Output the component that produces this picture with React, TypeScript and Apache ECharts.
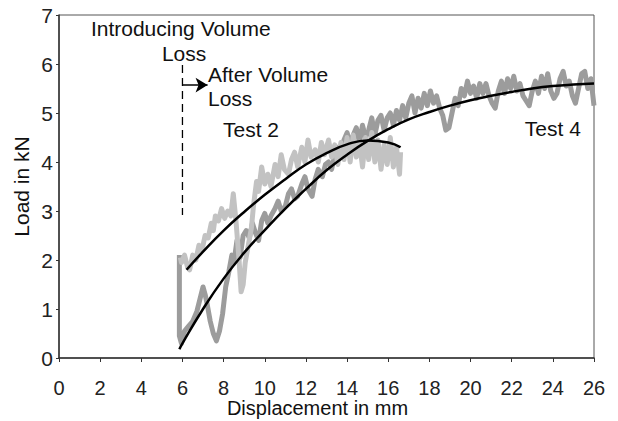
import React, { useEffect, useRef } from "react";
import * as echarts from "echarts";

// Test 2 measured trace (light grey)
const test2X = [5.9, 5.95, 6.1, 6.25, 6.35, 6.5, 6.65, 6.8, 6.95, 7.1, 7.25, 7.4, 7.5, 7.6, 7.75, 7.9, 8.05, 8.2, 8.35, 8.47, 8.6, 8.75, 8.85, 8.95, 9.05, 9.2, 9.35, 9.45, 9.6, 9.7, 9.85, 10.0, 10.15, 10.3, 10.5, 10.65, 10.8, 10.95, 11.15, 11.3, 11.45, 11.6, 11.8, 11.95, 12.1, 12.25, 12.45, 12.6, 12.75, 12.9, 13.1, 13.25, 13.4, 13.55, 13.7, 13.85, 14.0, 14.15, 14.3, 14.45, 14.6, 14.75, 14.9, 15.05, 15.2, 15.35, 15.5, 15.65, 15.8, 15.95, 16.1, 16.25, 16.4, 16.55, 16.6];
const test2Y = [2.05, 1.95, 2.1, 1.85, 1.8, 2.1, 2.0, 2.3, 2.2, 2.5, 2.45, 2.75, 2.6, 2.9, 2.8, 3.05, 2.85, 3.0, 2.9, 3.35, 2.8, 2.0, 1.35, 1.5, 1.95, 2.3, 2.65, 3.1, 3.6, 3.4, 3.9, 3.55, 3.75, 3.5, 3.95, 3.7, 4.15, 3.85, 3.75, 4.05, 4.2, 3.9, 4.3, 4.0, 4.45, 4.1, 4.25, 4.0, 4.4, 4.15, 4.45, 4.1, 4.35, 3.95, 4.4, 4.05, 4.5, 4.0, 4.55, 4.1, 4.4, 3.9, 4.5, 4.05, 4.6, 4.0, 4.45, 3.85, 4.35, 3.95, 4.5, 3.9, 4.3, 3.75, 4.2];

// Test 4 measured trace (dark grey)
const test4X = [5.85, 5.85, 5.85, 5.85, 5.95, 6.1, 6.3, 6.5, 6.7, 6.85, 7.0, 7.1, 7.2, 7.35, 7.5, 7.65, 7.8, 7.95, 8.1, 8.25, 8.4, 8.5, 8.65, 8.8, 8.95, 9.1, 9.25, 9.4, 9.55, 9.7, 9.85, 10.0, 10.15, 10.3, 10.5, 10.65, 10.8, 11.0, 11.15, 11.3, 11.45, 11.6, 11.8, 11.95, 12.1, 12.3, 12.45, 12.6, 12.8, 12.95, 13.1, 13.25, 13.4, 13.55, 13.7, 13.85, 14.0, 14.15, 14.3, 14.45, 14.6, 14.75, 14.9, 15.05, 15.2, 15.35, 15.5, 15.65, 15.8, 15.95, 16.1, 16.25, 16.4, 16.55, 16.7, 16.85, 17.0, 17.15, 17.3, 17.45, 17.6, 17.75, 17.9, 18.05, 18.2, 18.35, 18.5, 18.65, 18.8, 18.95, 19.1, 19.25, 19.4, 19.55, 19.7, 19.85, 20.0, 20.15, 20.3, 20.45, 20.6, 20.75, 20.9, 21.05, 21.2, 21.35, 21.5, 21.65, 21.8, 21.95, 22.1, 22.25, 22.4, 22.55, 22.7, 22.85, 23.0, 23.15, 23.3, 23.45, 23.6, 23.75, 23.9, 24.05, 24.2, 24.35, 24.5, 24.65, 24.8, 24.95, 25.1, 25.25, 25.4, 25.55, 25.7, 25.85, 26.0];
const test4Y = [2.1, 1.6, 1.0, 0.45, 0.3, 0.55, 0.65, 0.75, 0.95, 1.2, 1.45, 1.3, 1.1, 0.75, 0.5, 0.35, 0.55, 0.9, 1.45, 1.75, 2.1, 1.95, 2.4, 2.05, 2.5, 2.6, 2.45, 2.75, 2.55, 2.4, 2.8, 2.95, 2.75, 2.9, 3.05, 3.2, 3.0, 3.1, 3.35, 3.45, 3.25, 3.3, 3.55, 3.7, 3.45, 3.3, 3.65, 3.85, 3.7, 3.95, 4.0, 3.85, 4.15, 4.3, 4.1, 4.45, 4.6, 4.35, 4.55, 4.7, 4.4, 4.75, 4.5, 4.65, 4.9, 4.55, 4.85, 4.95, 4.65, 4.9, 5.0, 4.75, 5.05, 4.85, 5.15, 4.9, 5.2, 5.35, 5.0, 5.3, 5.1, 5.4, 5.15, 5.45, 5.2, 5.35, 5.1, 4.95, 4.65, 4.7, 5.0, 5.3, 5.15, 5.5, 5.35, 5.65, 5.4, 5.55, 5.3, 5.6, 5.4, 5.6, 5.35, 5.2, 5.1, 5.45, 5.65, 5.4, 5.7, 5.5, 5.75, 5.45, 5.6, 5.35, 5.25, 5.15, 5.45, 5.65, 5.4, 5.75, 5.5, 5.8, 5.45, 5.3, 5.4, 5.7, 5.85, 5.55, 5.65, 5.35, 5.2, 5.5, 5.8, 5.85, 5.5, 5.7, 5.15];

// Fitted curves (black)
const fit2X = [6.2, 7, 8, 9, 10, 11, 12, 13, 14, 15, 16, 16.6];
const fit2Y = [1.8, 2.17, 2.6, 2.98, 3.33, 3.65, 3.95, 4.18, 4.36, 4.44, 4.4, 4.3];
const fit4X = [5.85, 6, 7, 8, 9, 10, 11, 12, 13, 14, 15, 16, 17, 18, 19, 20, 21, 22, 23, 24, 25, 26];
const fit4Y = [0.18, 0.3, 1.0, 1.62, 2.15, 2.61, 3.05, 3.45, 3.83, 4.15, 4.43, 4.67, 4.87, 5.02, 5.15, 5.26, 5.35, 5.43, 5.5, 5.55, 5.58, 5.6];

// Volume loss marker
const lossLineX = [6, 6];
const lossLineY = [5.98, 2.92];
const arrowFrom = [6, 5.57];
const arrowTo = [7.22, 5.57];

// Annotation texts [x (mm), y (kN), text]
const notes: [number, number, string][] = [
  [1.55, 6.73, "Introducing Volume"],
  [5.0, 6.22, "Loss"],
  [7.24, 5.78, "After Volume"],
  [7.24, 5.29, "Loss"],
  [7.97, 4.67, "Test 2"],
  [22.64, 4.69, "Test 4"],
];

const FONT = "'Liberation Sans', Arial, sans-serif";
const FS = 21;
const AXFS = 20;

const pairs = (xs: number[], ys: number[]) => xs.map((x, i) => [x, ys[i]]);

export default function App() {
  const ref = useRef<HTMLDivElement>(null);
  useEffect(() => {
    if (!ref.current) return;
    const chart = echarts.init(ref.current, undefined, { renderer: "svg" });
    chart.setOption({
      animation: false,
      backgroundColor: "#ffffff",
      grid: {
        left: 59,
        right: 24,
        top: 15,
        bottom: 63,
        containLabel: false,
        outerBoundsMode: "none",
        show: true,
        borderColor: "#555",
        borderWidth: 1,
        backgroundColor: "transparent",
      },
      xAxis: {
        type: "value",
        min: 0,
        max: 26,
        interval: 2,
        name: "Displacement in mm",
        nameLocation: "middle",
        nameGap: 40,
        nameMoveOverlap: false,
        nameTextStyle: { fontFamily: FONT, fontSize: AXFS, color: "#111", padding: [0, 18, 0, 0] },
        axisLine: { show: true, lineStyle: { color: "#333", width: 1.5 } },
        axisTick: { show: true, length: 4, lineStyle: { color: "#333" } },
        axisLabel: { fontFamily: FONT, fontSize: AXFS, color: "#222", margin: 20 },
        splitLine: { show: false },
      },
      yAxis: {
        type: "value",
        min: 0,
        max: 7,
        interval: 1,
        name: "Load in kN",
        nameLocation: "middle",
        nameGap: 27,
        nameRotate: 90,
        nameMoveOverlap: false,
        nameTextStyle: { fontFamily: FONT, fontSize: FS, color: "#111" },
        axisLine: { show: true, lineStyle: { color: "#333", width: 1.5 } },
        axisTick: { show: true, length: 3, lineStyle: { color: "#333" } },
        axisLabel: { fontFamily: FONT, fontSize: FS, color: "#222", margin: 6 },
        splitLine: { show: false },
      },
      series: [
        {
          name: "Test 4",
          type: "line",
          data: pairs(test4X, test4Y),
          showSymbol: false,
          symbol: "none",
          lineStyle: { color: "#9c9c9c", width: 5, join: "round" },
          z: 2,
        },
        {
          name: "Test 2",
          type: "line",
          data: pairs(test2X, test2Y),
          showSymbol: false,
          symbol: "none",
          lineStyle: { color: "#c2c2c2", width: 5, join: "round" },
          z: 3,
        },
        {
          name: "Fit 2",
          type: "line",
          data: pairs(fit2X, fit2Y),
          smooth: true,
          symbol: "none",
          lineStyle: { color: "#000", width: 2.5 },
          z: 5,
        },
        {
          name: "Fit 4",
          type: "line",
          data: pairs(fit4X, fit4Y),
          smooth: true,
          symbol: "none",
          lineStyle: { color: "#000", width: 2.5 },
          z: 5,
        },
        {
          name: "Volume loss",
          type: "line",
          data: pairs(lossLineX, lossLineY),
          symbol: "none",
          lineStyle: { color: "#000", width: 1.3, type: [8, 5] },
          z: 6,
          markLine: {
            silent: true,
            symbol: ["none", "arrow"],
            symbolSize: [11, 12],
            label: { show: false },
            lineStyle: { color: "#000", width: 1.5, type: "solid" },
            data: [[{ coord: arrowFrom }, { coord: arrowTo }]],
          },
        },
      ],
    });
    const graphics = notes.map(([x, y, t]) => {
      const p = chart.convertToPixel({ gridIndex: 0 }, [x, y]) as number[];
      return {
        type: "text",
        x: p[0],
        y: p[1],
        style: {
          text: t,
          fontFamily: FONT,
          fontSize: FS,
          fill: "#111",
          align: "left",
          verticalAlign: "middle",
        },
        z: 10,
      };
    });
    chart.setOption({ graphic: graphics });
    return () => chart.dispose();
  }, []);
  return (
    <div
      ref={ref}
      style={{ position: "absolute", left: 0, top: 0, width: 618, height: 421 }}
    />
  );
}
